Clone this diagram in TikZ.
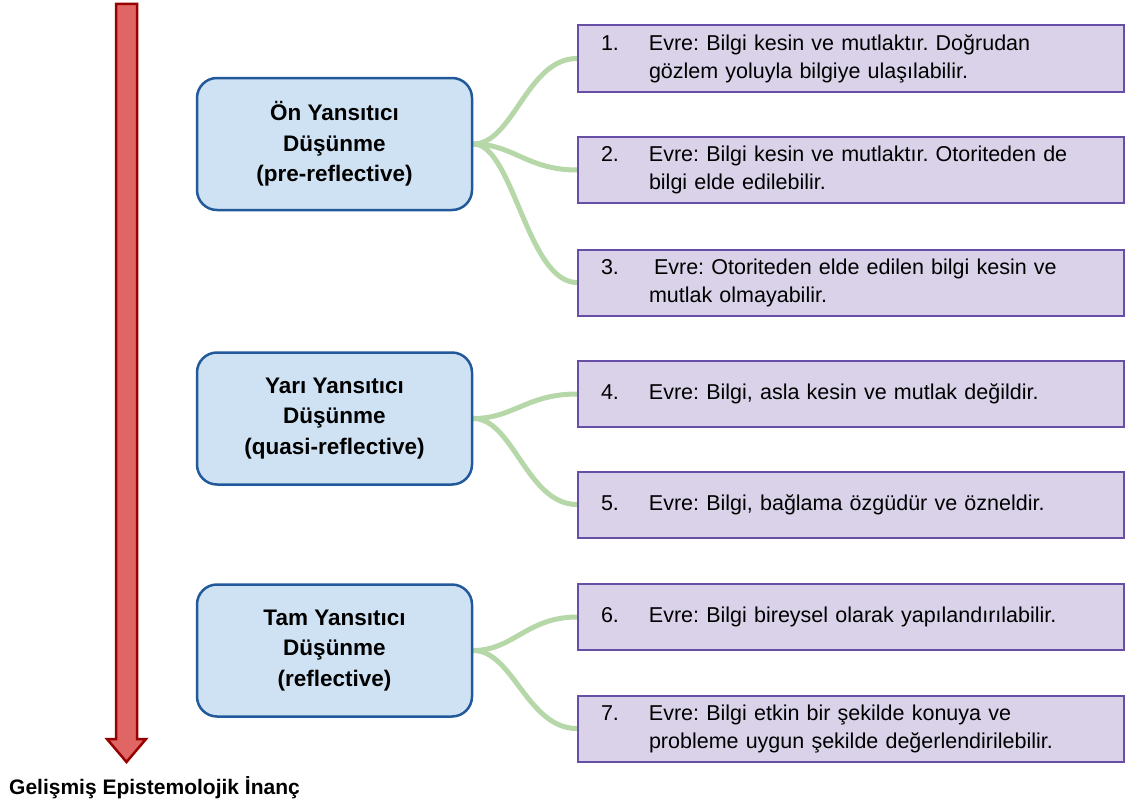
\documentclass[tikz,border=0pt]{standalone}
\usepackage{fontspec}
\setmainfont{Liberation Sans}
\usepackage{array}
\usetikzlibrary{backgrounds}
\frenchspacing

\definecolor{stagefill}{HTML}{CFE2F3}
\definecolor{stageborder}{HTML}{22599B}
\definecolor{evrefill}{HTML}{D9D2E9}
\definecolor{evreborder}{HTML}{674EA7}
\definecolor{linkgreen}{HTML}{B6D7A8}
\definecolor{arrowfill}{HTML}{E06666}
\definecolor{arrowborder}{HTML}{990000}

% number column + text column, second line aligned under the text
\newcommand{\evrelines}[2]{\begin{tabular}{@{}p{48pt}@{}l@{}}#1&#2\end{tabular}}

\begin{document}
\begin{tikzpicture}[x=1pt,y=-1pt,
  stage/.style={draw=stageborder, fill=stagefill, line width=2.5pt,
    rounded corners=20pt, minimum width=275pt, minimum height=132pt,
    inner sep=0pt, align=center,
    font=\fontsize{22.5}{30.5}\selectfont\bfseries},
  evrebox/.style={draw=evreborder, fill=evrefill, line width=2pt,
    minimum width=546pt, minimum height=66pt, text width=500pt,
    inner xsep=23pt, inner ysep=0pt, align=left, anchor=west,
    font=\fontsize{21.5}{28}\selectfont},
  link/.style={draw=linkgreen, line width=5pt},
  bigarrow/.style={fill=arrowfill, draw=arrowborder, line width=2.5pt, line join=miter}
]
\useasboundingbox (0,0) rectangle (1126,808);

% development arrow
\draw[bigarrow] (116,4) -- (137,4) -- (137,739) -- (146,739) -- (126.5,762)
  -- (107,739) -- (116,739) -- cycle;
\node[anchor=west, font=\fontsize{21}{25}\selectfont\bfseries, inner sep=0pt]
  (goal) at (9,788) {Gelişmiş Epistemolojik İnanç};

% reflective thinking stages
\node[stage] (s1) at (334.5,144) {Ön Yansıtıcı\\Düşünme\\(pre-reflective)};
\node[stage] (s2) at (334.5,418.5) {Yarı Yansıtıcı\\Düşünme\\(quasi-reflective)};
\node[stage] (s3) at (334.5,650.5) {Tam Yansıtıcı\\Düşünme\\(reflective)};

% seven stages
\node[evrebox] (e1) at (577,58.5) {\evrelines{1.}{Evre: Bilgi kesin ve mutlaktır. Doğrudan\\ & gözlem yoluyla bilgiye ulaşılabilir.}};
\node[evrebox] (e2) at (577,170) {\evrelines{2.}{Evre: Bilgi kesin ve mutlaktır. Otoriteden de\\ & bilgi elde edilebilir.}};
\node[evrebox] (e3) at (577,282.5) {\evrelines{3.}{\hspace{5pt}Evre: Otoriteden elde edilen bilgi kesin ve\\ & mutlak olmayabilir.}};
\node[evrebox] (e4) at (577,394) {\evrelines{4.}{Evre: Bilgi, asla kesin ve mutlak değildir.}};
\node[evrebox] (e5) at (577,504.5) {\evrelines{5.}{Evre: Bilgi, bağlama özgüdür ve özneldir.}};
\node[evrebox] (e6) at (577,617) {\evrelines{6.}{Evre: Bilgi bireysel olarak yapılandırılabilir.}};
\node[evrebox] (e7) at (577,728.5) {\evrelines{7.}{Evre: Bilgi etkin bir şekilde konuya ve\\ & probleme uygun şekilde değerlendirilebilir.}};

% connectors
\begin{scope}[on background layer]
\foreach \s/\e in {s1/e1, s1/e2, s1/e3, s2/e4, s2/e5, s3/e6, s3/e7}
  \draw[link] (\s.east) .. controls +(40,0) and +(-50,0) .. (\e.west);
\end{scope}
\end{tikzpicture}
\end{document}
